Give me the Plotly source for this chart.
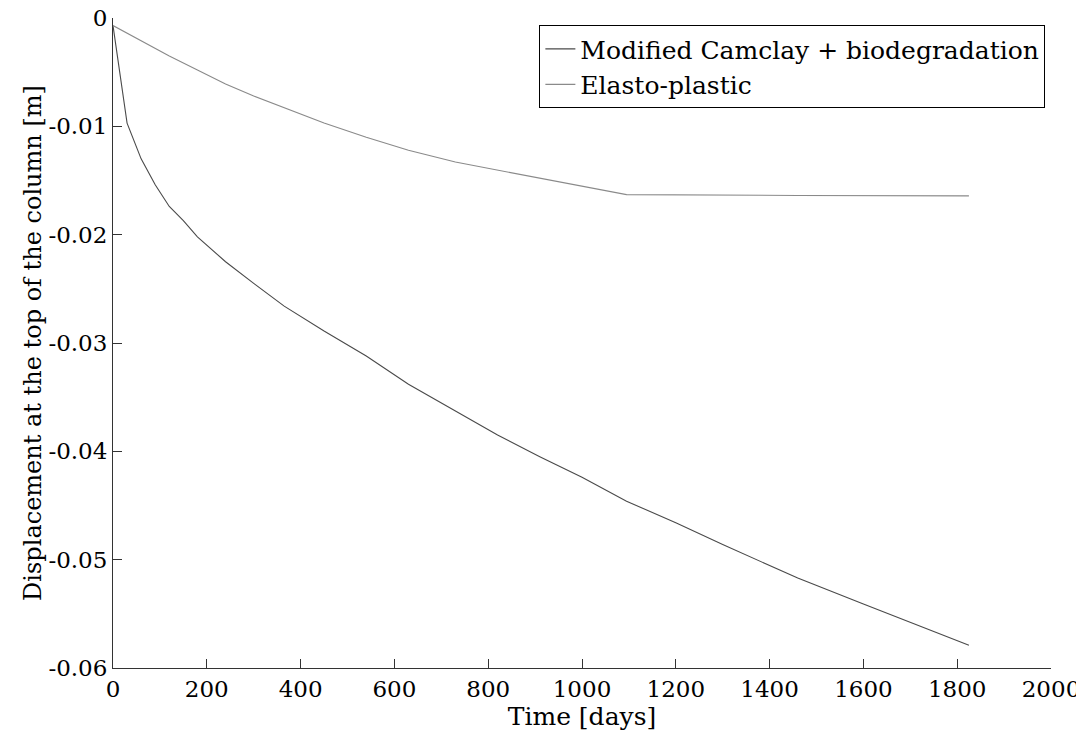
import plotly.graph_objects as go

# Data
t_camclay = [0, 30, 60, 90, 120, 150, 180, 240, 300, 365, 450, 540, 630, 730,
             820, 910, 1000, 1095, 1200, 1300, 1460, 1600, 1825]
d_camclay = [-0.0007, -0.0097, -0.0130, -0.0154, -0.0174, -0.0187, -0.0202,
             -0.0225, -0.0245, -0.0266, -0.0289, -0.0312, -0.0338, -0.0363,
             -0.0385, -0.0405, -0.0424, -0.0446, -0.0466, -0.0486, -0.0517,
             -0.0541, -0.0579]

t_elasto = [0, 30, 60, 90, 120, 180, 240, 300, 365, 450, 540, 630, 730, 910,
            1095, 1460, 1825]
d_elasto = [-0.0007, -0.0014, -0.0021, -0.0028, -0.0035, -0.0048, -0.0061,
            -0.0072, -0.0083, -0.0097, -0.0110, -0.0122, -0.0133, -0.0148,
            -0.0163, -0.01638, -0.01642]

x_ticks = [0, 200, 400, 600, 800, 1000, 1200, 1400, 1600, 1800, 2000]
y_ticks = [0, -0.01, -0.02, -0.03, -0.04, -0.05, -0.06]
y_ticktext = ["0", "-0.01", "-0.02", "-0.03", "-0.04", "-0.05", "-0.06"]

FONT = "DejaVu Serif"

fig = go.Figure()
fig.add_trace(go.Scatter(x=t_camclay, y=d_camclay, mode="lines",
                         name="Modified Camclay + biodegradation",
                         line=dict(color="#4a4a4a", width=1.1)))
fig.add_trace(go.Scatter(x=t_elasto, y=d_elasto, mode="lines",
                         name="Elasto-plastic",
                         line=dict(color="#8a8a8a", width=1.1)))

# page has an 8px body margin; figure sized to fit the 1084x735 window
fig.update_layout(
    width=1076, height=727,
    margin=dict(l=105, r=33, t=10, b=67, autoexpand=False),
    paper_bgcolor="white", plot_bgcolor="white",
    font=dict(family=FONT, size=23, color="black"),
    showlegend=True,
    legend=dict(x=0.994, y=0.989, xanchor="right", yanchor="top",
                bordercolor="black", borderwidth=1, bgcolor="white",
                font=dict(family=FONT, size=25, color="black"),
                tracegroupgap=0, itemwidth=30),
    xaxis=dict(range=[0, 2000], tickmode="array", tickvals=x_ticks,
               showgrid=False, zeroline=False, showline=True,
               linecolor="#333", linewidth=1, mirror=False,
               ticks="inside", ticklen=9, tickcolor="#333",
               ticklabeloverflow="allow",
               tickfont=dict(family=FONT, size=23, color="black"),
               title=dict(text="Time [days]", standoff=0,
                          font=dict(family=FONT, size=25, color="black"))),
    yaxis=dict(range=[-0.06, 0], tickmode="array", tickvals=y_ticks,
               ticktext=y_ticktext,
               showgrid=False, zeroline=False, showline=True,
               linecolor="#333", linewidth=1, mirror=False,
               ticks="inside", ticklen=9, tickcolor="#333",
               ticklabeloverflow="allow",
               tickfont=dict(family=FONT, size=23, color="black"),
               title=dict(text="Displacement at the top of the column [m]",
                          standoff=0,
                          font=dict(family=FONT, size=24, color="black"))),
)

fig.write_html("out.html")
